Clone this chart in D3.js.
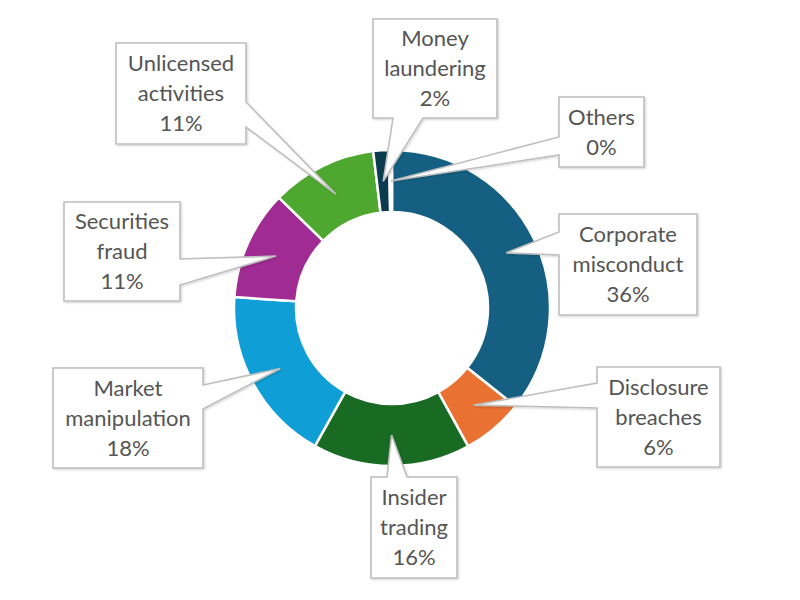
<!DOCTYPE html>
<html>
<head>
<meta charset="utf-8">
<script src="https://cdn.jsdelivr.net/npm/d3@7"></script>
<style>
  html, body { margin: 0; padding: 0; background: #ffffff; }
  svg { display: block; }
  .callout-text { font-family: Lato, "Open Sans", sans-serif; font-size: 22px; fill: #555555; }
</style>
</head>
<body>
<svg id="chart"></svg>
<script>
// Category names (each split into the lines shown in its callout)
const categories = [
  "Corporate misconduct",
  "Disclosure breaches",
  "Insider trading",
  "Market manipulation",
  "Securities fraud",
  "Unlicensed activities",
  "Money laundering",
  "Others",
];
const labelLines = [
  ["Corporate", "misconduct"],
  ["Disclosure", "breaches"],
  ["Insider", "trading"],
  ["Market", "manipulation"],
  ["Securities", "fraud"],
  ["Unlicensed", "activities"],
  ["Money", "laundering"],
  ["Others"],
];
// Share of cases
const values = [35.7, 6.3, 16.1, 18.0, 11.2, 10.8, 1.6, 0.3];

const colors = [
  "#156082", "#e97132", "#196b24", "#0f9ed5",
  "#a02b93", "#4ea72e", "#0c3a4f", "#8b3e14",
];

// Callout box layout: box rect, side the wedge leaves from, wedge base offset + width
const callouts = [
  { x: 559, y: 214, w: 138, h: 101, side: "left", off: 18, bw: 23 },
  { x: 597, y: 367, w: 123, h: 100, side: "left", off: 16, bw: 25 },
  { x: 371, y: 477, w: 86, h: 101, side: "top", off: 16, bw: 20 },
  { x: 53, y: 368, w: 150, h: 100, side: "right", off: 17, bw: 24 },
  { x: 64, y: 202, w: 116, h: 99, side: "right", off: 57, bw: 26 },
  { x: 116, y: 43, w: 130, h: 101, side: "right", off: 59, bw: 25 },
  { x: 373, y: 19, w: 124, h: 99, side: "bottom", off: 20, bw: 30 },
  { x: 559, y: 97, w: 85, h: 70, side: "left", off: 40, bw: 18 },
];

const width = 800, height = 600;
const center = { x: 392, y: 308 };
const outerR = 158, innerR = 96;
const lineHeight = 30;

const svg = d3.select("#chart").attr("width", width).attr("height", height);

const defs = svg.append("defs");
const shadow = defs.append("filter").attr("id", "shadow")
  .attr("x", "-20%").attr("y", "-20%").attr("width", "140%").attr("height", "140%");
shadow.append("feDropShadow")
  .attr("dx", 1).attr("dy", 1).attr("stdDeviation", 1.2)
  .attr("flood-color", "#000").attr("flood-opacity", 0.18);

const total = d3.sum(values);
const data = categories.map((c, i) => ({ name: c, value: values[i], index: i }));

const pie = d3.pie().value((d) => d.value).sort(null).startAngle(0).endAngle(2 * Math.PI);
const arc = d3.arc().innerRadius(innerR).outerRadius(outerR);
const arcs = pie(data);

const ring = svg.append("g").attr("transform", `translate(${center.x},${center.y})`);
ring.selectAll("path.slice")
  .data(arcs)
  .join("path")
  .attr("class", "slice")
  .attr("d", arc)
  .attr("fill", (d) => colors[d.data.index])
  .attr("stroke", "#ffffff")
  .attr("stroke-width", 2.5)
  .attr("stroke-linejoin", "round");

// Build wedge-callout outline: rectangle with a pointed tail to (tx, ty)
function calloutPath(b, tx, ty) {
  const x0 = b.x, y0 = b.y, x1 = b.x + b.w, y1 = b.y + b.h;
  const p = [];
  if (b.side === "top") {
    p.push([x0, y0], [x0 + b.off, y0], [tx, ty], [x0 + b.off + b.bw, y0], [x1, y0], [x1, y1], [x0, y1]);
  } else if (b.side === "right") {
    p.push([x0, y0], [x1, y0], [x1, y0 + b.off], [tx, ty], [x1, y0 + b.off + b.bw], [x1, y1], [x0, y1]);
  } else if (b.side === "bottom") {
    p.push([x0, y0], [x1, y0], [x1, y1], [x0 + b.off + b.bw, y1], [tx, ty], [x0 + b.off, y1], [x0, y1]);
  } else {
    p.push([x0, y0], [x1, y0], [x1, y1], [x0, y1], [x0, y0 + b.off + b.bw], [tx, ty], [x0, y0 + b.off]);
  }
  return "M" + p.map((q) => q.join(",")).join("L") + "Z";
}

const labels = svg.append("g").attr("class", "callouts");

const callout = labels.selectAll("g.callout")
  .data(arcs)
  .join("g")
  .attr("class", "callout");

callout.append("path")
  .attr("d", (d) => {
    const c = arc.centroid(d);
    return calloutPath(callouts[d.data.index], center.x + c[0], center.y + c[1]);
  })
  .attr("fill", "#ffffff")
  .attr("stroke", "#bfbfbf")
  .attr("stroke-width", 1.6)
  .attr("stroke-linejoin", "miter")
  .attr("filter", "url(#shadow)");

const fmt = d3.format(".0%");

callout.append("text")
  .attr("class", "callout-text")
  .attr("text-anchor", "middle")
  .each(function (d) {
    const b = callouts[d.data.index];
    const lines = labelLines[d.data.index].concat([fmt(d.data.value / total)]);
    const cx = b.x + b.w / 2;
    const cy = b.y + b.h / 2;
    const startY = cy - ((lines.length - 1) * lineHeight) / 2;
    d3.select(this).selectAll("tspan")
      .data(lines)
      .join("tspan")
      .attr("x", cx)
      .attr("y", (l, i) => startY + i * lineHeight)
      .attr("dy", "0.35em")
      .text((l) => l);
  });
</script>
</body>
</html>
